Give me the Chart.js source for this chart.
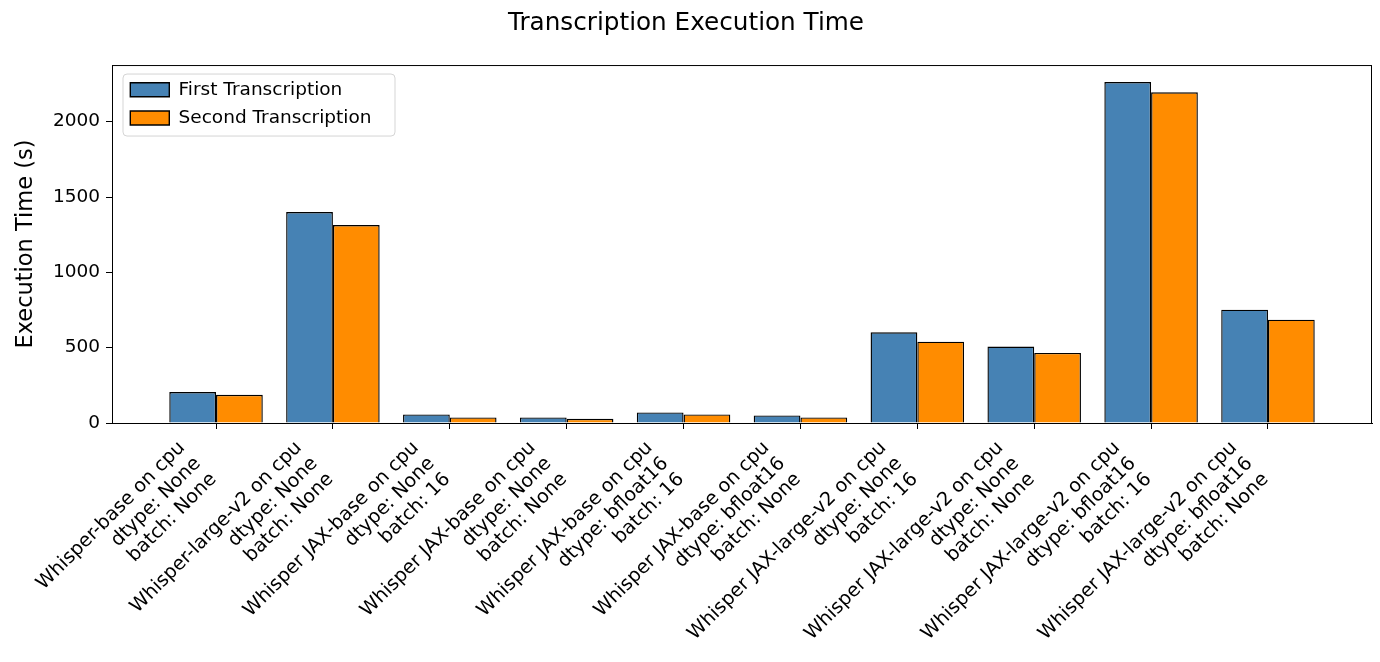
<!DOCTYPE html>
<html>
<head>
<meta charset="utf-8">
<script src="https://cdn.jsdelivr.net/npm/chart.js@4.4.0/dist/chart.umd.min.js"></script>
<style>
  html, body { margin: 0; padding: 0; background: #fff; }
  #chart { display: block; }
</style>
</head>
<body>
<canvas id="chart" width="1380" height="662"></canvas>
<script>
// categories, one array of lines per tick label
const categories = [
  ['Whisper-base on cpu', 'dtype: None', 'batch: None'],
  ['Whisper-large-v2 on cpu', 'dtype: None', 'batch: None'],
  ['Whisper JAX-base on cpu', 'dtype: None', 'batch: 16'],
  ['Whisper JAX-base on cpu', 'dtype: None', 'batch: None'],
  ['Whisper JAX-base on cpu', 'dtype: bfloat16', 'batch: 16'],
  ['Whisper JAX-base on cpu', 'dtype: bfloat16', 'batch: None'],
  ['Whisper JAX-large-v2 on cpu', 'dtype: None', 'batch: 16'],
  ['Whisper JAX-large-v2 on cpu', 'dtype: None', 'batch: None'],
  ['Whisper JAX-large-v2 on cpu', 'dtype: bfloat16', 'batch: 16'],
  ['Whisper JAX-large-v2 on cpu', 'dtype: bfloat16', 'batch: None']
];

const firstTimes = [205, 1400, 57, 37, 70, 50, 602, 507, 2263, 752];
const secondTimes = [187, 1314, 37, 28, 57, 37, 540, 465, 2195, 686];

const yTicks = [0, 500, 1000, 1500, 2000];

const toPoints = (vals) => vals.map((v, i) => ({ x: i, y: v }));

Chart.defaults.font.family = '"DejaVu Sans", sans-serif';
Chart.defaults.color = '#000';

// plot frame (top/right spines) plus the legend box
const framePlugin = {
  id: 'frame',
  beforeDraw(chart) {
    const { ctx, chartArea: a } = chart;
    ctx.save();
    ctx.fillStyle = '#fff';
    ctx.fillRect(0, 0, chart.width, chart.height);
    // legend frame
    const x = a.left + 11, y = a.top + 9, w = 272, h = 62, r = 4;
    ctx.beginPath();
    ctx.moveTo(x + r, y);
    ctx.arcTo(x + w, y, x + w, y + h, r);
    ctx.arcTo(x + w, y + h, x, y + h, r);
    ctx.arcTo(x, y + h, x, y, r);
    ctx.arcTo(x, y, x + w, y, r);
    ctx.closePath();
    ctx.strokeStyle = '#d5d5d5';
    ctx.lineWidth = 1;
    ctx.stroke();
    ctx.restore();
  },
  afterLayout(chart) {
    const lg = chart.legend;
    const a = chart.chartArea;
    if (lg) {
      lg.left = a.left + 8.5;
      lg.top = a.top + 5.6;
      lg.right = lg.left + lg.width;
      lg.bottom = lg.top + lg.height;
    }
  },
  afterDraw(chart) {
    const { ctx, chartArea: a } = chart;
    ctx.save();
    ctx.strokeStyle = '#000';
    ctx.lineWidth = 1;
    ctx.strokeRect(a.left + 0.5, a.top + 0.5, a.right - a.left - 1, a.bottom - a.top);
    ctx.restore();
  }
};

new Chart(document.getElementById('chart'), {
  type: 'bar',
  data: {
    datasets: [
      {
        label: 'First Transcription',
        data: toPoints(firstTimes),
        backgroundColor: '#4682B4',
        borderColor: '#000',
        borderWidth: 1.4
      },
      {
        label: 'Second Transcription',
        data: toPoints(secondTimes),
        backgroundColor: '#FF8C00',
        borderColor: '#000',
        borderWidth: 1.4
      }
    ]
  },
  plugins: [framePlugin],
  options: {
    responsive: false,
    animation: false,
    devicePixelRatio: 1,
    layout: { padding: { left: 0, right: 8, top: 0, bottom: 0 } },
    datasets: {
      bar: { categoryPercentage: 0.8, barPercentage: 1.0 }
    },
    scales: {
      x: {
        type: 'linear',
        min: -0.89,
        max: 9.89,
        offset: false,
        grid: { display: true, offset: false, drawOnChartArea: false, drawTicks: true, tickLength: 6, color: '#000', lineWidth: 1 },
        border: { display: true, color: '#000', width: 1 },
        afterBuildTicks: (axis) => {
          axis.ticks = categories.map((c, i) => ({ value: i }));
        },
        afterFit: (axis) => {
          axis.height = 239;
          axis.paddingLeft = 0;
          axis.paddingRight = 0;
        },
        ticks: {
          autoSkip: false,
          minRotation: 45,
          maxRotation: 45,
          padding: 8,
          labelOffset: -34,
          font: { size: 19.2, lineHeight: 1.16 },
          callback: (value) => categories[value]
        }
      },
      y: {
        min: 0,
        max: 2376,
        grid: { display: true, drawOnChartArea: false, drawTicks: true, tickLength: 6, color: '#000', lineWidth: 1 },
        border: { display: true, color: '#000', width: 1 },
        afterBuildTicks: (axis) => {
          axis.ticks = yTicks.map(v => ({ value: v }));
        },
        afterFit: (axis) => {
          axis.width = 112;
          axis.paddingTop = 0;
          axis.paddingBottom = 0;
        },
        ticks: {
          padding: 6,
          font: { size: 18.5 },
          callback: (value) => String(value)
        },
        title: {
          display: true,
          text: 'Execution Time (s)',
          font: { size: 22.5 },
          padding: { top: 13, bottom: 0 }
        }
      }
    },
    plugins: {
      title: {
        display: true,
        text: 'Transcription Execution Time',
        font: { size: 24.7, weight: 'normal' },
        padding: { top: 8.7, bottom: 26.7 }
      },
      legend: {
        position: 'chartArea',
        align: 'start',
        labels: {
          boxWidth: 39,
          boxHeight: 14,
          padding: 9.8,
          font: { size: 18.5 },
          color: '#000'
        }
      },
      tooltip: { enabled: false }
    }
  }
});
</script>
</body>
</html>
